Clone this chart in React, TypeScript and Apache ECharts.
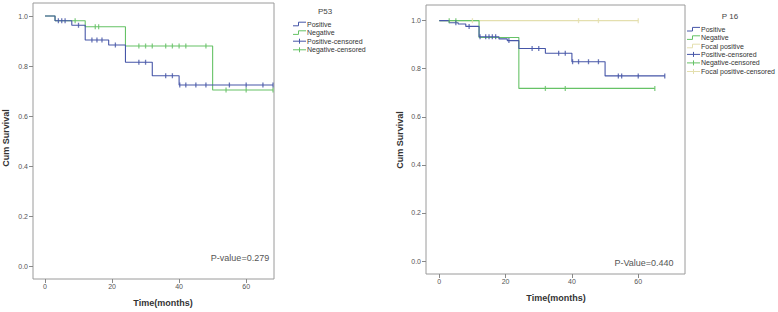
import React, { useEffect, useRef } from "react";
import * as echarts from "echarts";

// ---- P53 panel ----
const p53PosTimes = [0, 3, 8, 12, 19, 24, 32, 40, 68];
const p53PosSurv = [1.0, 0.981, 0.963, 0.904, 0.884, 0.815, 0.761, 0.724, 0.724];
const p53PosCensT = [4, 5, 6, 10, 14, 15.5, 17, 21, 28, 30, 36, 38, 40.2, 42, 45, 48, 55, 60, 65, 68];
const p53NegTimes = [0, 3, 12, 24, 50, 68];
const p53NegSurv = [1.0, 0.981, 0.957, 0.88, 0.704, 0.704];
const p53NegCensT = [9, 15, 16, 28, 30, 32, 36, 38, 40, 42, 48, 54, 60, 68];

// ---- P16 panel ----
const p16PosTimes = [0, 3, 5.7, 8, 12, 18, 20.5, 24, 32, 40, 50, 68];
const p16PosSurv = [1.0, 0.991, 0.986, 0.976, 0.933, 0.924, 0.917, 0.884, 0.864, 0.829, 0.77, 0.77];
const p16PosCensT = [5, 9, 12.3, 14, 15, 16, 17, 21, 28, 30, 36, 38, 40.2, 42, 45, 48, 54, 55, 60, 68];
const p16NegTimes = [0, 12, 24, 65];
const p16NegSurv = [1.0, 0.93, 0.718, 0.718];
const p16NegCensT = [3, 5, 32, 38, 65];
const p16FocTimes = [0, 60];
const p16FocSurv = [1.0, 1.0];
const p16FocCensT = [10, 42, 48, 60];

const xTicks = [0, 20, 40, 60];
const yTicks = [0, 0.2, 0.4, 0.6, 0.8, 1.0];

const p53Legend = ["Positive", "Negative", "Positive-censored", "Negative-censored"];
const p16Legend = ["Positive", "Negative", "Focal positive", "Positive-censored", "Negative-censored", "Focal positive-censored"];

const BLUE = "#4656a8";
const GREEN = "#66c266";
const TAN = "#e4dfae";
const FONT = "'Liberation Sans', Arial, sans-serif";

function survAt(times: number[], surv: number[], t: number) {
  let s = surv[0];
  for (let i = 0; i < times.length; i++) if (times[i] <= t) s = surv[i];
  return s;
}

function stepSeries(times: number[], surv: number[], color: string, idx: number, z = 2) {
  return {
    type: "line",
    step: "end",
    xAxisIndex: idx,
    yAxisIndex: idx,
    data: times.map((t, i) => [t, surv[i]]),
    symbol: "none",
    lineStyle: { color, width: 1.1 },
    silent: true,
    z,
  };
}

function censSeries(times: number[], surv: number[], cens: number[], color: string, idx: number, z = 3) {
  return {
    type: "scatter",
    xAxisIndex: idx,
    yAxisIndex: idx,
    data: cens.map((t) => [t, survAt(times, surv, t)]),
    symbol: "rect",
    symbolSize: [1.3, 5],
    itemStyle: { color },
    silent: true,
    z,
  };
}

function legendGraphics(
  names: string[],
  colors: string[],
  x0: number,
  x1: number,
  ys: number[],
  nCurves: number
) {
  const els: any[] = [];
  names.forEach((n, i) => {
    const y = ys[i];
    const c = colors[i];
    if (i < nCurves) {
      const mid = (x0 + x1) / 2 - 1;
      els.push({
        type: "polyline",
        shape: { points: [[x0, y + 1.8], [mid, y + 1.8], [mid, y - 1.8], [x1, y - 1.8]] },
        style: { stroke: c, lineWidth: 1, fill: null },
      });
    } else {
      const mid = (x0 + x1) / 2;
      els.push({ type: "line", shape: { x1: x0, y1: y, x2: x1, y2: y }, style: { stroke: c, lineWidth: 1 } });
      els.push({ type: "line", shape: { x1: mid, y1: y - 2.5, x2: mid, y2: y + 2.5 }, style: { stroke: c, lineWidth: 1 } });
    }
    els.push({
      type: "text",
      x: x1 + 1,
      y,
      style: { text: n, fontSize: 7, fontFamily: FONT, fill: "#333", textAlign: "left", textVerticalAlign: "middle" },
    });
  });
  return els;
}

export default function App() {
  const ref = useRef<HTMLDivElement>(null);
  useEffect(() => {
    if (!ref.current) return;
    const chart = echarts.init(ref.current, null, { renderer: "svg" });

    const axisCommonX = (min: number, max: number, idx: number) => ({
      type: "value",
      gridIndex: idx,
      position: "bottom",
      min,
      max,
      axisLine: { show: false, onZero: false },
      splitLine: { show: false },
      axisTick: { show: true, length: 4, lineStyle: { color: "#888" }, customValues: xTicks },
      axisLabel: { customValues: xTicks, fontSize: 7, color: "#555", margin: 4, fontFamily: FONT },
    });
    const axisCommonY = (min: number, max: number, idx: number) => ({
      type: "value",
      gridIndex: idx,
      position: "left",
      min,
      max,
      axisLine: { show: false, onZero: false },
      splitLine: { show: false },
      axisTick: { show: true, length: 4, lineStyle: { color: "#888" }, customValues: yTicks },
      axisLabel: {
        customValues: yTicks,
        fontSize: 7,
        color: "#555",
        margin: 5,
        fontFamily: FONT,
        formatter: (v: number) => v.toFixed(1),
      },
    });

    const graphics: any[] = [
      // Titles
      { type: "text", x: 325, y: 11, style: { text: "P53", fontSize: 8, fontFamily: FONT, fill: "#444", textAlign: "center", textVerticalAlign: "middle" } },
      { type: "text", x: 730, y: 16, style: { text: "P 16", fontSize: 8, fontFamily: FONT, fill: "#444", textAlign: "center", textVerticalAlign: "middle" } },
      // P-values
      { type: "text", x: 240, y: 258, style: { text: "P-value=0.279", fontSize: 9, fontFamily: FONT, fill: "#555", textAlign: "center", textVerticalAlign: "middle" } },
      { type: "text", x: 644, y: 263, style: { text: "P-Value=0.440", fontSize: 9, fontFamily: FONT, fill: "#555", textAlign: "center", textVerticalAlign: "middle" } },
      // Axis names
      { type: "text", x: 163, y: 303, style: { text: "Time(months)", fontSize: 9, fontWeight: "bold", fontFamily: FONT, fill: "#333", textAlign: "center", textVerticalAlign: "middle" } },
      { type: "text", x: 556, y: 298, style: { text: "Time(months)", fontSize: 9, fontWeight: "bold", fontFamily: FONT, fill: "#333", textAlign: "center", textVerticalAlign: "middle" } },
      { type: "text", x: 6, y: 138, rotation: Math.PI / 2, style: { text: "Cum Survival", fontSize: 9, fontWeight: "bold", fontFamily: FONT, fill: "#333", textAlign: "center", textVerticalAlign: "middle" } },
      { type: "text", x: 400, y: 140, rotation: Math.PI / 2, style: { text: "Cum Survival", fontSize: 9, fontWeight: "bold", fontFamily: FONT, fill: "#333", textAlign: "center", textVerticalAlign: "middle" } },
      ...legendGraphics(p53Legend, [BLUE, GREEN, BLUE, GREEN], 293, 306, [24, 32.6, 41.2, 49.8], 2),
      ...legendGraphics(p16Legend, [BLUE, GREEN, TAN, BLUE, GREEN, TAN], 687, 700, [29.2, 37.6, 46, 54.4, 62.9, 71.5], 3),
    ];

    chart.setOption({
      animation: false,
      backgroundColor: "#ffffff",
      grid: [
        { left: 33, top: 3, width: 241, height: 276, show: true, borderColor: "#9a9a9a", borderWidth: 1, containLabel: false },
        { left: 426, top: 5, width: 259, height: 269, show: true, borderColor: "#9a9a9a", borderWidth: 1, containLabel: false },
      ],
      xAxis: [axisCommonX(-3.57, 68.3, 0), axisCommonX(-4.0, 74.1, 1)],
      yAxis: [axisCommonY(-0.052, 1.052, 0), axisCommonY(-0.054, 1.065, 1)],
      series: [
        stepSeries(p53NegTimes, p53NegSurv, GREEN, 0, 2),
        stepSeries(p53PosTimes, p53PosSurv, BLUE, 0, 3),
        censSeries(p53NegTimes, p53NegSurv, p53NegCensT, GREEN, 0, 4),
        censSeries(p53PosTimes, p53PosSurv, p53PosCensT, BLUE, 0, 5),
        stepSeries(p16FocTimes, p16FocSurv, TAN, 1, 2),
        stepSeries(p16NegTimes, p16NegSurv, GREEN, 1, 3),
        stepSeries(p16PosTimes, p16PosSurv, BLUE, 1, 4),
        censSeries(p16FocTimes, p16FocSurv, p16FocCensT, TAN, 1, 5),
        censSeries(p16NegTimes, p16NegSurv, p16NegCensT, GREEN, 1, 5),
        censSeries(p16PosTimes, p16PosSurv, p16PosCensT, BLUE, 1, 6),
      ],
      graphic: graphics,
    });
    return () => chart.dispose();
  }, []);
  return <div ref={ref} style={{ position: "fixed", left: 0, top: 0, width: 778, height: 312 }} />;
}
